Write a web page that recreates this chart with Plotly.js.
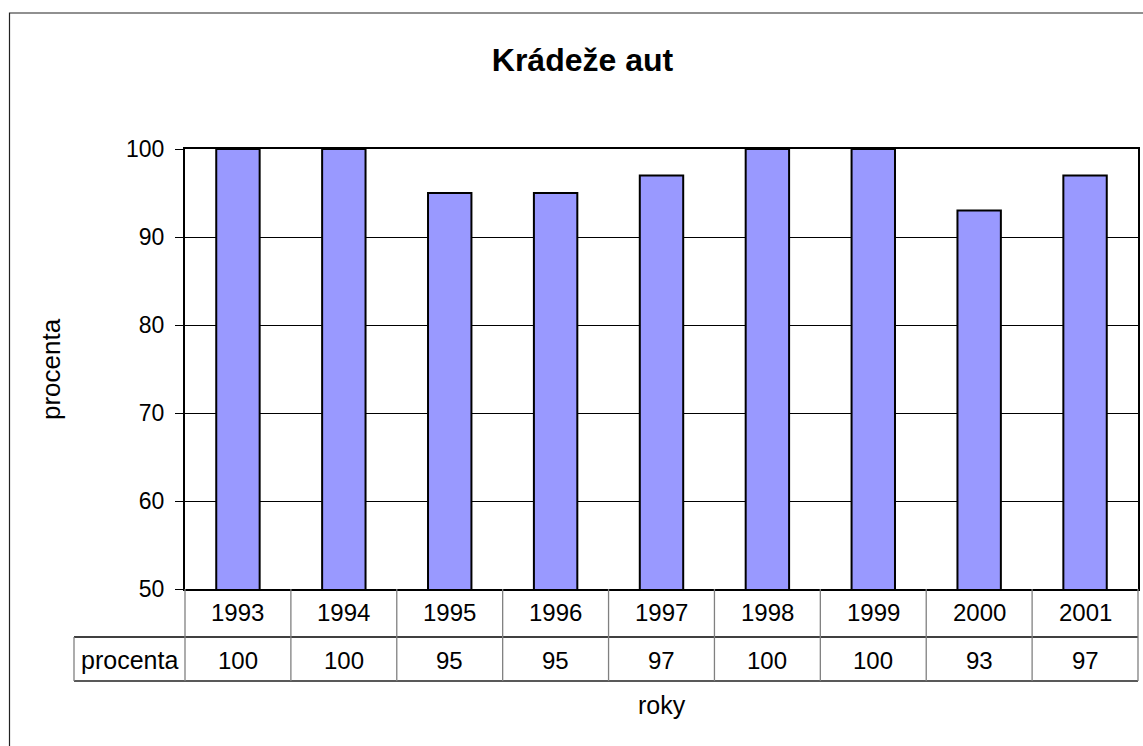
<!DOCTYPE html>
<html>
<head>
<meta charset="utf-8">
<script src="https://cdn.plot.ly/plotly-3.0.1.min.js"></script>
<style>
  html, body { margin: 0; padding: 0; background: #fff; }
  #chart { width: 1143px; height: 746px; }
</style>
</head>
<body>
<div id="chart"></div>
<script>
// ---- data ----
const years = ['1993', '1994', '1995', '1996', '1997', '1998', '1999', '2000', '2001'];
const procenta = [100, 100, 95, 95, 97, 100, 100, 93, 97];
const seriesName = 'procenta';
const chartTitle = 'Krádeže aut';
const xTitle = 'roky';
const yTitle = 'procenta';
const yTicks = [50, 60, 70, 80, 90, 100];

// ---- layout geometry (pixels) ----
const W = 1143, H = 746;
const M = { l: 185, r: 5, t: 149, b: 157 };
const PW = W - M.l - M.r, PH = H - M.t - M.b;
const px2x = px => (px - M.l) / PW;          // page px -> paper x
const px2y = py => (H - M.b - py) / PH;      // page px -> paper y

const FONT = 'Arial, "Liberation Sans", sans-serif';
const n = years.length;

// table geometry
const row1Bottom = 637, row2Bottom = 681, labelLeft = 74;
const yRow1 = px2y(612.5), yRow2 = px2y(660);

const shapes = [];
const grey = '#808080';
// horizontal table lines
shapes.push({ type: 'line', xref: 'paper', yref: 'paper', x0: px2x(labelLeft), x1: 1, y0: px2y(row1Bottom), y1: px2y(row1Bottom), line: { color: '#000', width: 1.3 } });
shapes.push({ type: 'line', xref: 'paper', yref: 'paper', x0: px2x(labelLeft), x1: 1, y0: px2y(row2Bottom), y1: px2y(row2Bottom), line: { color: '#222', width: 1.3 } });
// vertical table lines at category boundaries
for (let k = 0; k <= n; k++) {
  shapes.push({ type: 'line', xref: 'paper', yref: 'paper', x0: k / n, x1: k / n, y0: 0, y1: px2y(row2Bottom), line: { color: grey, width: 1.3 } });
}
// left edge of label cell
shapes.push({ type: 'line', xref: 'paper', yref: 'paper', x0: px2x(labelLeft), x1: px2x(labelLeft), y0: px2y(row1Bottom), y1: px2y(row2Bottom), line: { color: grey, width: 1.3 } });
// outer chart frame
shapes.push({ type: 'rect', xref: 'paper', yref: 'paper', x0: px2x(9.5), x1: px2x(1170), y0: px2y(780), y1: px2y(13), line: { color: '#222', width: 1.2 }, fillcolor: 'rgba(0,0,0,0)', layer: 'below' });

const annotations = [];
years.forEach((yr, i) => {
  // x given as the category index on the category axis
  annotations.push({ xref: 'x', yref: 'paper', x: i, y: yRow1, text: yr, showarrow: false, xanchor: 'center', yanchor: 'middle', font: { family: FONT, size: 24, color: '#000' } });
  annotations.push({ xref: 'x', yref: 'paper', x: i, y: yRow2, text: String(procenta[i]), showarrow: false, xanchor: 'center', yanchor: 'middle', font: { family: FONT, size: 24, color: '#000' } });
});
annotations.push({ xref: 'paper', yref: 'paper', x: px2x((labelLeft + M.l) / 2), y: yRow2, text: seriesName, showarrow: false, xanchor: 'center', yanchor: 'middle', font: { family: FONT, size: 25, color: '#000' } });
// axis titles
annotations.push({ xref: 'paper', yref: 'paper', x: 0.5, y: px2y(705), text: xTitle, showarrow: false, xanchor: 'center', yanchor: 'middle', font: { family: FONT, size: 25, color: '#000' } });
annotations.push({ xref: 'paper', yref: 'paper', x: px2x(51), y: 0.5, text: yTitle, textangle: -90, showarrow: false, xanchor: 'center', yanchor: 'middle', font: { family: FONT, size: 26, color: '#000' } });

const trace = {
  type: 'bar',
  x: years,
  y: procenta,
  name: seriesName,
  marker: { color: '#9999FF', line: { color: '#000', width: 2 } },
  hoverinfo: 'x+y'
};

const layout = {
  width: W, height: H,
  margin: M,
  paper_bgcolor: '#fff',
  plot_bgcolor: '#fff',
  showlegend: false,
  bargap: 0.59,
  title: {
    text: '<b>' + chartTitle + '</b>',
    x: 582.5 / W, xref: 'container', xanchor: 'center',
    y: 1 - 60 / H, yref: 'container', yanchor: 'middle',
    font: { family: FONT, size: 32, color: '#000' }
  },
  xaxis: {
    type: 'category',
    categoryorder: 'array', categoryarray: years,
    range: [-0.5, n - 0.5],
    autorange: false,
    showticklabels: false,
    ticks: '',
    showgrid: false,
    showline: true, linecolor: '#000', linewidth: 2, mirror: true,
    zeroline: false
  },
  yaxis: {
    range: [50, 100],
    autorange: false,
    tickvals: yTicks,
    ticks: 'outside', ticklen: 8, tickcolor: '#000', tickwidth: 1,
    ticklabelstandoff: 6,
    tickfont: { family: FONT, size: 23, color: '#000' },
    showgrid: true, gridcolor: '#000', gridwidth: 1,
    showline: true, linecolor: '#000', linewidth: 2, mirror: true,
    zeroline: false,
    fixedrange: true
  },
  shapes: shapes,
  annotations: annotations
};

Plotly.newPlot('chart', [trace], layout, { displayModeBar: false, staticPlot: true });
</script>
</body>
</html>
